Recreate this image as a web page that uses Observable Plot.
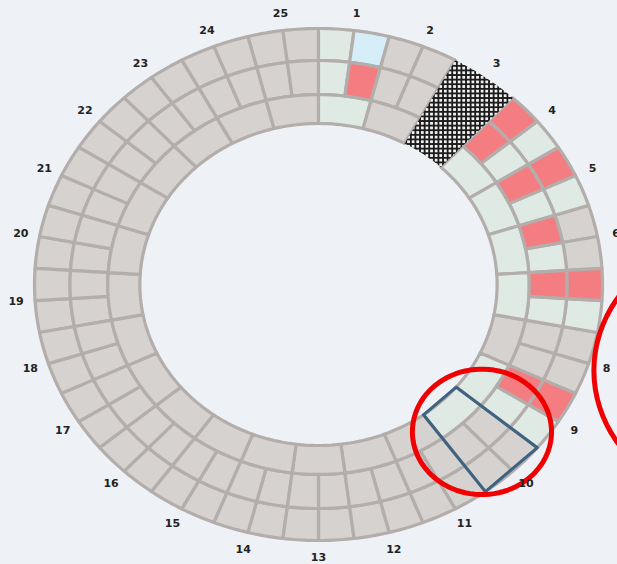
<!DOCTYPE html>
<html><head><meta charset="utf-8">
<script src="https://cdn.jsdelivr.net/npm/d3@7"></script>
<script src="https://cdn.jsdelivr.net/npm/@observablehq/plot@0.6"></script>
<style>
html,body{margin:0;padding:0;background:#eef2f7;overflow:hidden}
#chart svg{display:block}
</style></head><body><div id="chart"></div>
<script>
// ---- data ----
const sectorLabels = ["1","2","3","4","5","6","7","8","9","10","11","12","13","14","15","16","17","18","19","20","21","22","23","24","25"];
// cell state per sector: g = grey, l = light green, b = light blue, r = red, h = hatched
const outerA  = ["l","g","h","r","r","g","r","g","r","g","g","g","g","g","g","g","g","g","g","g","g","g","g","g","g"];
const outerB  = ["b","g","h","l","l","g","l","g","l","g","g","g","g","g","g","g","g","g","g","g","g","g","g","g","g"];
const middleA = ["l","g","h","r","r","r","r","g","r","g","g","g","g","g","g","g","g","g","g","g","g","g","g","g","g"];
const middleB = ["r","g","h","l","l","l","l","g","l","g","g","g","g","g","g","g","g","g","g","g","g","g","g","g","g"];
const inner   = ["l","g","h","l","l","l","l","g","l","l","g","g","g","g","g","g","g","g","g","g","g","g","g","g","g"];
const highlightedSectors = ["10"];

// ---- layout / style ----
const R = [1.0, 0.875, 0.742, 0.629]; // ring boundaries (outer -> inner)
const labelRadius = 1.067;
const circles = [{angle: 135, r: 0.814, size: 0.245}, {angle: 102.7, r: 1.527, size: 0.52}];
const fills = {g: "#d6d2cf", l: "#e0eae5", b: "#d5eef8", r: "#f47d82"};
const N = sectorLabels.length, step = 360 / N;
const rad = a => a * Math.PI / 180;
const pt = (a, r) => ({x: r * Math.sin(rad(a)), y: r * Math.cos(rad(a))});

function wedge(id, a0, a1, r0, r1, extra) {
  const n = 10, out = [];
  for (let k = 0; k <= n; k++) out.push({id, ...extra, ...pt(a0 + (a1 - a0) * k / n, r1)});
  for (let k = n; k >= 0; k--) out.push({id, ...extra, ...pt(a0 + (a1 - a0) * k / n, r0)});
  return out;
}

const rows = [
  {codes: outerA, r0: R[1], r1: R[0], part: 0, parts: 2},
  {codes: outerB, r0: R[1], r1: R[0], part: 1, parts: 2},
  {codes: middleA, r0: R[2], r1: R[1], part: 0, parts: 2},
  {codes: middleB, r0: R[2], r1: R[1], part: 1, parts: 2},
  {codes: inner, r0: R[3], r1: R[2], part: 0, parts: 1}
];
const cellPts = [];
rows.forEach((row, ri) => row.codes.forEach((code, i) => {
  if (code === "h") return;
  const a0 = i * step + row.part * step / row.parts, a1 = a0 + step / row.parts;
  cellPts.push(...wedge(`c${ri}-${i}`, a0, a1, row.r0, row.r1, {code}));
}));
const hatchPts = [];
sectorLabels.forEach((s, i) => {
  if ([outerA, outerB, middleA, middleB, inner].every(arr => arr[i] === "h"))
    hatchPts.push(...wedge(`h${i}`, i * step, (i + 1) * step, R[3], R[0], {}));
});
const quadPts = [];
highlightedSectors.forEach(s => {
  const i = sectorLabels.indexOf(s), a0 = i * step, a1 = (i + 1) * step;
  [[a0, R[3]], [a0, R[0]], [a1, R[0]], [a1, R[3]]].forEach(([a, r]) => quadPts.push({id: s, ...pt(a, r)}));
});
const circlePts = [];
circles.forEach((c, ci) => {
  const ctr = pt(c.angle, c.r);
  for (let k = 0; k < 90; k++) {
    const t = 2 * Math.PI * k / 90;
    circlePts.push({id: ci, x: ctr.x + c.size * Math.cos(t), y: ctr.y + c.size * Math.sin(t)});
  }
});
const labels = sectorLabels.map((s, i) => ({text: s, ...pt((i + 0.5) * step, labelRadius)}));

const W = 617, H = 564, cx = 318, cy = 284, sx = 284, sy = 256;
const cellMarks = Object.keys(fills).map(k => Plot.line(cellPts.filter(d => d.code === k), {
  x: "x", y: "y", z: "id", fill: fills[k], stroke: "#b3aeab", strokeWidth: 3.2, curve: "linear-closed"
}));

const svg = Plot.plot({
  width: W, height: H, margin: 0,
  x: {domain: [-cx / sx, (W - cx) / sx], axis: null},
  y: {domain: [(cy - H) / sy, cy / sy], axis: null},
  style: {background: "transparent", fontFamily: "DejaVu Sans, sans-serif"},
  marks: [
    ...cellMarks,
    Plot.line(hatchPts, {x: "x", y: "y", z: "id", fill: "url(#hatch)", stroke: "none", curve: "linear-closed"}),
    Plot.line(quadPts, {x: "x", y: "y", z: "id", stroke: "#3d6282", strokeWidth: 3, curve: "linear-closed"}),
    Plot.line(circlePts, {x: "x", y: "y", z: "id", stroke: "#f00000", strokeWidth: 5, curve: "linear-closed", clip: true}),
    Plot.text(labels, {x: "x", y: "y", text: "text", fontSize: 11, fontWeight: "bold", fill: "#222"})
  ]
});
const defs = d3.select(svg).insert("defs", ":first-child");
const pat = defs.append("pattern").attr("id", "hatch").attr("patternUnits", "userSpaceOnUse").attr("width", 4.6).attr("height", 4.6);
pat.append("rect").attr("width", 4.6).attr("height", 4.6).attr("fill", "#f3f3f3");
pat.append("path").attr("d", "M0 0.9H4.6M0.9 0V4.6").attr("stroke", "#1c1c1c").attr("stroke-width", 1.9);
document.getElementById("chart").appendChild(svg);
</script></body></html>
